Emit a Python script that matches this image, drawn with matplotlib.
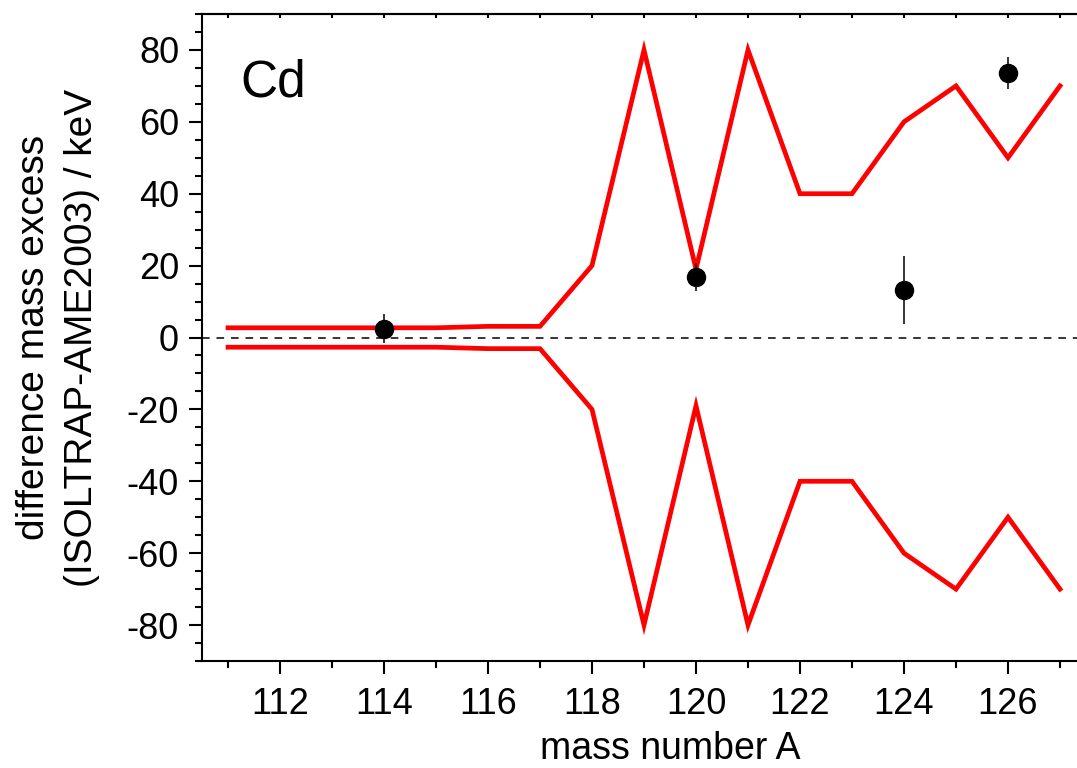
import numpy as np
import matplotlib
matplotlib.use("Agg")
import matplotlib.pyplot as plt
from matplotlib.ticker import MultipleLocator

plt.rcParams['font.family'] = ['Liberation Sans', 'DejaVu Sans']
plt.rcParams['axes.unicode_minus'] = False

# mass number and the AME2003 uncertainty band (keV)
mass = [111, 112, 113, 114, 115, 116, 117, 118, 119, 120, 121, 122, 123, 124, 125, 126, 127]
ame_err = [2.7, 2.7, 2.7, 2.7, 2.7, 3.1, 3.1, 20, 80, 19, 80, 40, 40, 60, 70, 50, 70]

# ISOLTRAP - AME2003 differences
isoltrap_A = [114, 120, 124, 126]
isoltrap_diff = [2.4, 16.7, 13.3, 73.5]
isoltrap_err = [4.0, 3.9, 9.5, 4.4]

W, H = 1077, 768
fig = plt.figure(figsize=(W / 100, H / 100), dpi=100)
ax = fig.add_axes([202 / W, (H - 661) / H, 884 / W, 647 / H])

red = '#ff0000'
ax.plot(mass, ame_err, color=red, lw=3.4, solid_joinstyle='miter', zorder=3)
ax.plot(mass, [-e for e in ame_err], color=red, lw=3.4, solid_joinstyle='miter', zorder=3)
ax.axhline(0, color='black', lw=1.1, dashes=(5, 4.5), zorder=2)

ax.errorbar(isoltrap_A, isoltrap_diff, yerr=isoltrap_err, fmt='o', color='black',
            ms=13, elinewidth=1.1, capsize=0, zorder=4)

ax.text(111.23, 67, 'Cd', fontsize=37, ha='left', va='baseline')

ax.set_xlim(110.5, 127.5)
ax.set_ylim(-90, 90)

ax.xaxis.set_major_locator(MultipleLocator(2))
ax.xaxis.set_minor_locator(MultipleLocator(1))
ax.yaxis.set_major_locator(MultipleLocator(20))
ax.yaxis.set_minor_locator(MultipleLocator(5))
ax.set_xticks(np.arange(112, 127, 2))
ax.set_yticks(np.arange(-80, 81, 20))

ax.tick_params(axis='both', which='major', direction='out', length=9.5, width=1.5,
               labelsize=26, top=False, right=False)
ax.tick_params(axis='both', which='minor', direction='out', length=5, width=1.5,
               top=False, right=False)
ax.tick_params(axis='x', which='major', pad=9)
ax.tick_params(axis='y', which='major', pad=7)

# short inward ticks along the top edge
top = ax.secondary_xaxis('top')
top.set_xticks(mass)
top.tick_params(direction='in', length=3, width=1.5, labeltop=False)
top.spines['top'].set_linewidth(1.5)

for s in ax.spines.values():
    s.set_linewidth(1.5)

ax.set_xlabel('mass number A', fontsize=27, va='baseline')
ax.xaxis.set_label_coords((670 - 202) / 884, (661 - 759) / 647)
ax.set_ylabel('difference mass excess\n(ISOLTRAP-AME2003) / keV', fontsize=28,
              va='center', linespacing=1.45)
ax.yaxis.set_label_coords((58 - 202) / 884, 0.5)

fig.savefig('out.png', dpi=100)
